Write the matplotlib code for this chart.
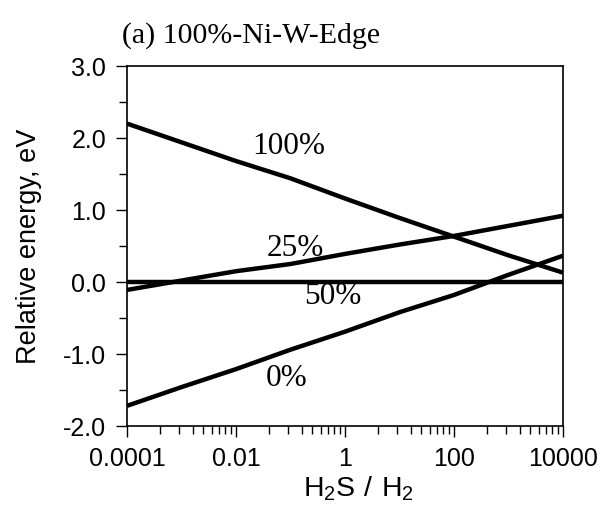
import numpy as np
import matplotlib
matplotlib.use("Agg")
import matplotlib.pyplot as plt
from matplotlib.ticker import FixedLocator, FixedFormatter, MultipleLocator, FormatStrFormatter

plt.rcParams['font.family'] = ['Liberation Sans', 'DejaVu Sans']

##data
h2s_ratio = [1e-4, 1e-3, 1e-2, 1e-1, 1, 10, 100, 1000, 1e4]
e_100 = [2.20, 1.94, 1.68, 1.44, 1.16, 0.89, 0.63, 0.37, 0.13]
e_25 = [-0.11, 0.02, 0.15, 0.25, 0.39, 0.52, 0.64, 0.78, 0.92]
e_50 = [0, 0, 0, 0, 0, 0, 0, 0, 0]
e_0 = [-1.72, -1.46, -1.21, -0.94, -0.69, -0.42, -0.18, 0.10, 0.365]

xticks = [1e-4, 1e-2, 1, 1e2, 1e4]
xticklabels = ['0.0001', '0.01', '1', '100', '10000']

##set up the figure
fig = plt.figure(figsize=(6.02, 5.21), dpi=100)
ax = fig.add_axes([127/602, 1 - 426/521, 436/602, 360/521])

for y in [e_100, e_25, e_50, e_0]:
    ax.plot(h2s_ratio, y, '-', color='black', lw=3.2, solid_capstyle='butt')

ax.set_xscale('log')
ax.set_xlim(1e-4, 1e4)
ax.set_ylim(-2, 3)

##ticks
ax.xaxis.set_major_locator(FixedLocator(xticks))
ax.xaxis.set_major_formatter(FixedFormatter(xticklabels))
minor = [xticks[i] * k**2 for i in range(len(xticks) - 1) for k in range(2, 10)]
ax.xaxis.set_minor_locator(FixedLocator(minor))
ax.xaxis.set_minor_formatter(FixedFormatter([''] * len(minor)))

ax.yaxis.set_major_locator(MultipleLocator(1.0))
ax.yaxis.set_minor_locator(MultipleLocator(0.5))
ax.yaxis.set_major_formatter(FormatStrFormatter('%.1f'))

ax.tick_params(which='major', direction='out', length=8, width=1.0, labelsize=18, pad=7)
ax.tick_params(which='minor', direction='out', length=6, width=1.0)
ax.tick_params(top=False, right=False, which='both')

for s in ax.spines.values():
    s.set_linewidth(1.2)

##labels
ax.set_ylabel('Relative energy, eV', fontsize=19.5)
ax.yaxis.set_label_coords(-0.195, 0.5)
ax.set_xlabel(r'$\mathregular{H_2S\ /\ H_2}$', fontsize=20.5)
ax.xaxis.set_label_coords(0.53, -0.135)

serif = ['Liberation Serif', 'DejaVu Serif']
ax.text(0.0925, 1.88, '100%', family=serif, fontsize=22.5, ha='center', va='center')
ax.text(0.123, 0.468, '25%', family=serif, fontsize=22.5, ha='center', va='center')
ax.text(0.61, -0.204, '50%', family=serif, fontsize=22.5, ha='center', va='center')
ax.text(0.085, -1.34, '0%', family=serif, fontsize=22.5, ha='center', va='center')

fig.text(122/602, 1 - 43/521, '(a) 100%-Ni-W-Edge', family=serif, fontsize=21.5,
         ha='left', va='baseline')

fig.savefig('out.png', dpi=100)
